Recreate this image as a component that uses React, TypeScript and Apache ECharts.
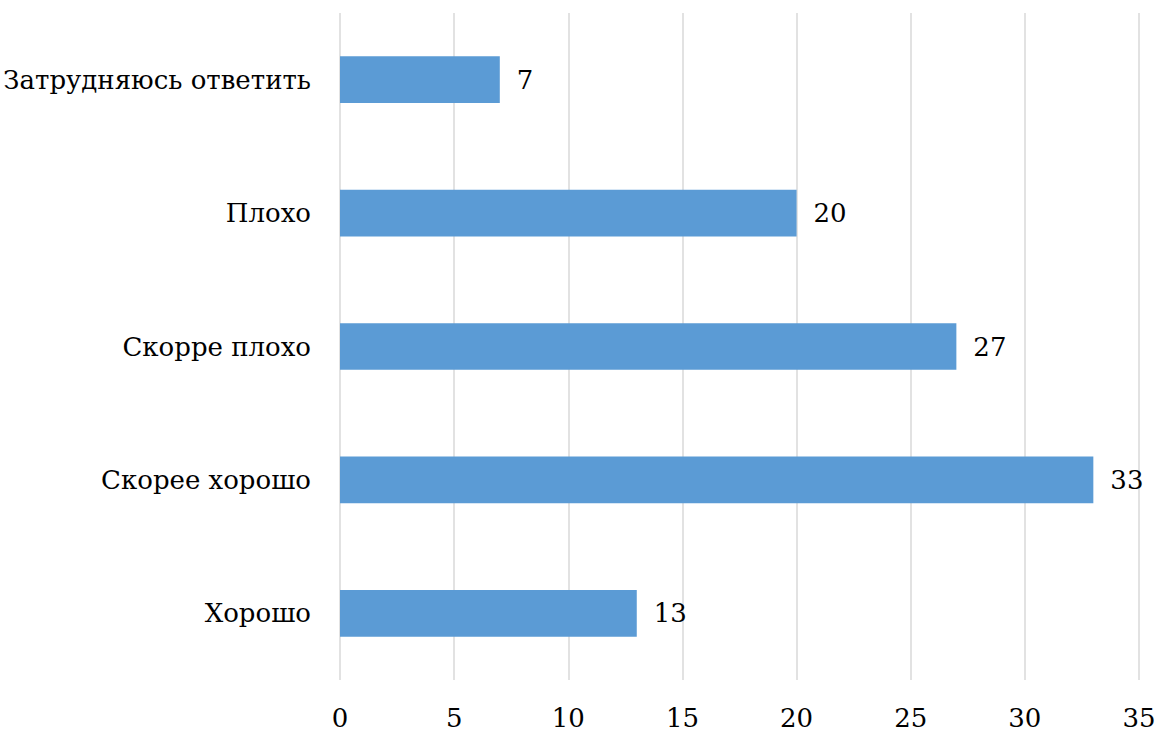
import React, { useEffect, useRef } from "react";
import * as echarts from "echarts";

const categories = ["Хорошо", "Скорее хорошо", "Скорре плохо", "Плохо", "Затрудняюсь ответить"];
const values = [13, 33, 27, 20, 7];
const xMin = 0;
const xMax = 35;
const xInterval = 5;

export default function App() {
  const ref = useRef<HTMLDivElement>(null);
  useEffect(() => {
    document.body.style.margin = "0";
    const chart = echarts.init(ref.current!, null, { renderer: "svg" });
    const font = "DejaVu Serif";
    chart.setOption({
      animation: false,
      backgroundColor: "#ffffff",
      textStyle: { fontFamily: font },
      grid: { left: 340, right: 20, top: 13, bottom: 53, containLabel: false },
      xAxis: {
        type: "value",
        min: xMin,
        max: xMax,
        interval: xInterval,
        axisLine: { show: false },
        axisTick: { show: false },
        splitLine: { show: true, lineStyle: { color: "#d9d9d9", width: 1.5 } },
        axisLabel: { color: "#000", fontSize: 26, fontFamily: font, margin: 25 },
      },
      yAxis: {
        type: "category",
        data: categories,
        axisLine: { show: false },
        axisTick: { show: false },
        axisLabel: { color: "#000", fontSize: 26, fontFamily: font, margin: 29 },
      },
      series: [
        {
          type: "bar",
          data: values,
          barWidth: "35%",
          itemStyle: { color: "#5b9bd5" },
          label: {
            show: true,
            position: "right",
            distance: 17,
            color: "#000",
            fontSize: 26,
            fontFamily: font,
          },
        },
      ],
    });
    return () => chart.dispose();
  }, []);
  return <div ref={ref} style={{ width: 1159, height: 733 }} />;
}
